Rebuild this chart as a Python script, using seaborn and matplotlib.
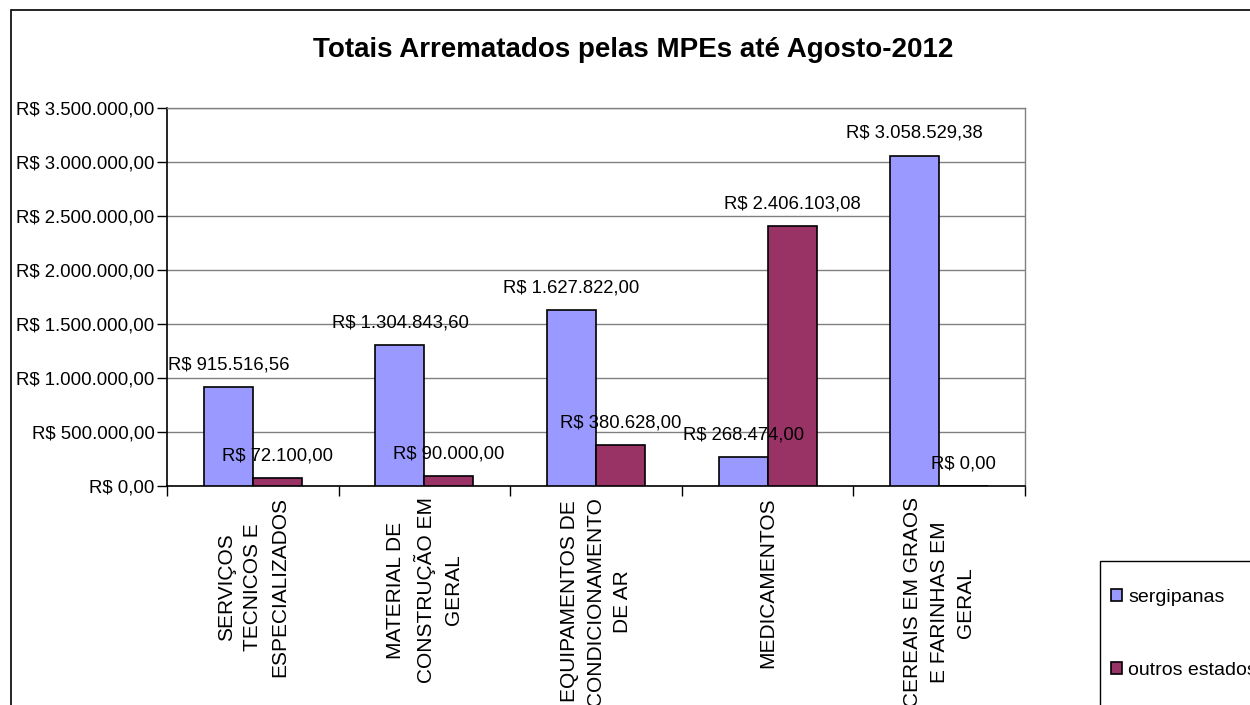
import numpy as np
import pandas as pd
import seaborn as sns
import matplotlib
matplotlib.use("Agg")
import matplotlib.pyplot as plt
from matplotlib.ticker import FuncFormatter
from matplotlib.patches import Rectangle, Patch

categorias = ["SERVIÇOS\nTECNICOS E\nESPECIALIZADOS",
              "MATERIAL DE\nCONSTRUÇÃO EM\nGERAL",
              "EQUIPAMENTOS DE\nCONDICIONAMENTO\nDE AR",
              "MEDICAMENTOS",
              "CEREAIS EM GRAOS\nE FARINHAS EM\nGERAL"]
sergipanas = [915516.56, 1304843.60, 1627822.00, 268474.00, 3058529.38]
outros_estados = [72100.00, 90000.00, 380628.00, 2406103.08, 0.00]
series = ["sergipanas", "outros estados"]
cores = ["#9999FF", "#993366"]
yticks = [0, 500000, 1000000, 1500000, 2000000, 2500000, 3000000, 3500000]


def reais(v, pos=None):
    s = f"{v:,.2f}".replace(",", "X").replace(".", ",").replace("X", ".")
    return "R$ " + s


df = pd.DataFrame({
    "categoria": categorias * 2,
    "valor": sergipanas + outros_estados,
    "grupo": [series[0]] * 5 + [series[1]] * 5,
})

sns.set_style("white")
plt.rcParams["font.family"] = ["Liberation Sans", "DejaVu Sans"]
plt.rcParams["text.color"] = "black"
plt.rcParams["xtick.color"] = "black"
plt.rcParams["ytick.color"] = "black"

fig = plt.figure(figsize=(12.5, 7.05), dpi=100)
ax = fig.add_axes([167 / 1250, 1 - 486 / 705, 858 / 1250, 378 / 705])

sns.barplot(data=df, x="categoria", y="valor", hue="grupo", palette=cores,
            width=0.57, saturation=1, edgecolor="black", linewidth=1.2,
            errorbar=None, ax=ax, zorder=3)

ax.set_ylim(0, 3500000)
ax.set_xlim(-0.5, 4.5)
ax.set_yticks(yticks)
ax.yaxis.set_major_formatter(FuncFormatter(reais))
ax.yaxis.grid(True, color="#808080", lw=1, zorder=0)
ax.set_axisbelow(True)
ax.set_xlabel("")
ax.set_ylabel("")

ax.set_xticks(np.arange(-0.5, 5, 1), minor=True)
ax.tick_params(axis="x", which="major", length=0, pad=8, labelsize=15, rotation=90)
ax.tick_params(axis="x", which="minor", length=7, width=1, color="black", direction="out", bottom=True)
ax.tick_params(axis="y", length=7, width=1, color="black", direction="out", left=True,
               labelsize=13.4, pad=2)
for lbl in ax.get_xticklabels():
    lbl.set_multialignment("center")
    lbl.set_va("top")
    lbl.set_linespacing(1.5)
    lbl.set_color("black")

for side in ["left", "bottom"]:
    ax.spines[side].set_color("black")
    ax.spines[side].set_linewidth(1.2)
for side in ["top", "right"]:
    ax.spines[side].set_color("#808080")
    ax.spines[side].set_linewidth(1)

for cont in ax.containers:
    ax.bar_label(cont, labels=[reais(b.get_height()) for b in cont], padding=10,
                 fontsize=13.3, color="black")

# legenda: moldura desenhada à parte, cortada pela borda da figura
ax.get_legend().remove()
handles = [Patch(facecolor=c, edgecolor="black", linewidth=1.2) for c in cores]
fig.legend(handles, series, loc="upper left", bbox_to_anchor=(1111 / 1250, 1 - 589 / 705),
           borderaxespad=0, borderpad=0, fontsize=14, frameon=False,
           handlelength=0.55, handleheight=0.55, handletextpad=0.32, labelspacing=2.86)
fig.add_artist(Rectangle((1100 / 1250, -0.2), 0.3, 0.2 + 1 - 561 / 705, transform=fig.transFigure,
                         fill=False, edgecolor="black", lw=1))

fig.text(0.5064, 1 - 50 / 705, "Totais Arrematados pelas MPEs até Agosto-2012",
         ha="center", va="center", fontsize=20, fontweight="bold")

fig.add_artist(Rectangle((11 / 1250, -0.2), 2, 1.2 - 10 / 705, transform=fig.transFigure,
                         fill=False, edgecolor="black", lw=1.2))

fig.savefig("out.png", dpi=100)
